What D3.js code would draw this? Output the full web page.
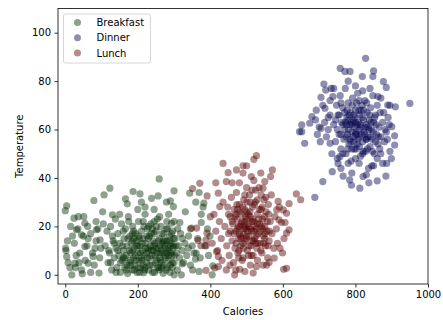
<!DOCTYPE html>
<html>
<head>
<meta charset="utf-8">
<script src="https://cdn.jsdelivr.net/npm/d3@7"></script>
<style>
  body { margin: 0; background: #fff; }
  text { font-family: "DejaVu Sans", sans-serif; }
</style>
</head>
<body>
<div id="chart"></div>
<script>
(function() {
  'use strict';

  // [calories, temperature]
  var breakfast = [
    [4,28.5],[0,26.5],[24,23.4],[36,24],[51,24],[1,11],[4,7.5],[8,5],[13,3],[18,0],[79,30.7],[107,33],[123,35.8],
    [103,26],[130,24.8],[105,21],[47,0.4],[93,0.7],[206,33.4],[187,34.4],[166,31.4],[171,29.3],[210,30],[259,39.6],
    [256,32.6],[238,31.6],[279,30],[300,34.7],[290,30.5],[298,28.2],[331,26],[343,33.7],[369,34],[360,30],[382,29.6],
    [380,28],[375,25],[375,21.6],[399,16],[407,3.7],[405,0],[369,1.4],[351,2],[320,0],[300,0],[322,4.5],[359,6.5],
    [361,9],[339,11],[323,15],[345,19],[316,21.6],[293,21.3],
    [2,10],[6,14],[20,16],[25,13],[30,8],[38,5],[45,2],[55,6],[60,12],[62,20],[70,17],[75,9],[80,4],[85,14],[90,19],
    [95,7],[98,11],[35,19],[15,20],[50,16],[70,1],[28,3],[85,22],[31,18.6],[45,16.5],[63,15],[54,11.7],[40,9],[27,4.8],
    [63,4.8],[77,7.6],[82,11],[96,14.4],[86,18.6],[54,21.3],
    [110,12],[115,18],[118,5],[122,9],[125,20],[128,2],[132,14],[135,7],[138,23],[140,11],[142,3],[145,17],[148,8],
    [150,13],[152,1],[155,21],[157,6],[160,10],[162,15],[164,3],[166,19],[168,8],[170,12],[172,0.5],[174,24],[176,5],
    [178,16],[180,9],[182,13],[184,2],[186,20],[188,7],[190,11],[192,4],[194,17],[196,14],[198,1],[200,9],[202,22],
    [204,6],[206,12],[208,3],[210,18],[212,10],[214,15],[216,0.8],[218,8],[220,25],[222,13],[224,5],[226,19],[228,11],
    [230,2],[232,16],[234,7],[236,21],[238,10],[240,4],[242,14],[244,12],[246,1],[248,8],[250,18],[252,6],[254,23],
    [256,11],[258,3],[260,15],[262,9],[264,20],[266,5],[268,13],[270,0.6],[272,17],[274,8],[276,11],[278,2],[280,14],
    [282,19],[284,6],[286,10],[288,16],[290,4],[292,13],[294,8],[296,18],[298,12],[300,5],[303,15],[306,9],[309,2],
    [312,12],[315,7],[318,17],[322,10],[326,5],[330,13],[335,8],[340,16],[345,4],[350,12],[355,9],[365,15],[372,7],
    [385,12],[392,19],[395,8],
    [185,10],[195,6],[205,15],[215,4],[225,9],[235,12],[245,17],[255,3],[265,10],[275,14],[285,8],[190,2],[230,20],
    [260,24],[280,22],[160,18],[175,22],[150,25],[200,27],[220,28],[245,27],[130,16],[120,10],[140,1],[285,25],
    [300,22],[310,19],
    [152,5],[158,12],[163,7],[168,2],[173,15],[177,10],[181,4],[186,14],[189,18],[193,8],[197,12],[201,3],[203,16],
    [207,9],[211,6],[213,13],[217,20],[219,2],[221,11],[227,7],[229,15],[233,4],[237,17],[239,8],[241,1],[243,10],
    [247,13],[249,5],[251,20],[253,9],[257,14],[259,2],[261,12],[263,6],[267,17],[269,9],[271,4],[273,12],[277,7],
    [279,19],[281,3],[283,11],[287,14],[289,1],[291,9],[293,17],[295,5],[297,11],[299,15],[301,8],[180,6],[190,15],
    [200,12],[210,7],[220,3],[230,10],[240,19],[250,11],[260,7],[270,14],[280,9],[290,12],[170,4],[160,7],[145,10],
    [135,13],[125,5],[305,12],[295,3],[215,22],[245,22],[265,3],[185,17],[205,1],[225,16]
  ];

  var dinner = [
    [828,89.4],[758,85.3],[771,84],[785,84],[850,84.2],[819,81.9],[848,81.9],[877,79.8],[885,77.4],[713,78.8],
    [718,76.3],[733,77],[738,73.6],[705,73.3],[692,68],[716,68.8],[680,65.3],[674,62.6],[652,61.9],[646,59.1],
    [652,59.1],[660,54.3],[705,60.5],[703,55],[730,54.3],[950,70.8],[910,69.4],[889,70.1],[862,73.6],[900,61.2],
    [908,57.4],[908,53.6],[899,48],[886,46],[875,46],[884,40.8],[860,38.8],[837,38],[812,35.8],[789,37],[784,39.2],
    [766,40.8],[736,42.6],[710,38.5],[688,32],[752,46],[757,48.8],[830,41.3],[821,40.6],
    [740,62],[745,55],[748,70],[750,48],[752,66],[755,58],[758,74],[760,52],[762,63],[765,69],[768,56],[770,60],
    [772,77],[774,50],[776,65],[778,58],[780,71],[782,54],[784,62],[786,67],[788,47],[790,59],[792,73],[794,64],
    [796,55],[798,61],[800,68],[802,52],[804,58],[806,75],[808,63],[810,57],[812,66],[814,49],[816,61],[818,70],
    [820,55],[822,64],[824,59],[826,72],[828,51],[830,62],[832,67],[834,57],[836,44],[838,64],[840,53],[842,69],
    [844,60],[846,56],[848,74],[850,63],[852,50],[855,66],[858,58],[860,70],[862,54],[865,61],[868,67],[870,57],
    [875,63],[880,55],[885,59],[890,65],[895,51],[725,60],[730,66],[735,50],[720,57],[715,63],[700,61],[690,64],
    [695,58],[710,70],[780,80],[800,78],[820,76],[760,44],[790,42],[810,46],[845,45],[860,48],[870,73],[780,64],
    [790,62],[800,58],[810,60],[795,66],[805,54],[815,68],[785,56],[825,58],[775,62],[835,61],[800,63],[790,52],
    [810,72],[770,67],[830,56],
    [772,63],[774,57],[777,68],[779,52],[781,60],[783,66],[787,55],[789,63],[791,70],[793,57],[797,52],[799,65],
    [801,59],[803,71],[805,62],[807,56],[809,68],[811,53],[813,62],[817,58],[819,65],[821,51],[823,68],[827,61],
    [829,56],[831,71],[833,52],[837,60],[839,66],[841,57],[843,63],[847,51],[849,59],[853,65],[857,62],[863,57],
    [867,52],[760,58],[765,62],[755,66],[750,60],[745,64],[878,67],[882,60],[888,56],[893,62],[730,72],[740,77],
    [870,50],[850,45],[800,48],[780,46],[820,50],[840,77],[760,71],[895,70],[725,65],[765,50],[855,55]
  ];

  var lunch = [
    [435,46],[527,49.2],[520,47.7],[500,45],[490,45],[472,43.3],[371,37.8],[351,35.6],[391,32.6],[415,38],[637,33.4],
    [649,31],[617,29.4],[610,25.4],[617,18.6],[610,17.2],[599,9],[602,2.3],[610,2.7],[467,0],[388,1.8],[412,2.8],
    [374,12],[388,12],[388,14.4],[366,14.2],[348,19.3],[362,19.3],[417,9.6],[422,3.4],[454,4],[495,1.4],[527,3.4],
    [555,4],[571,43.3],[566,40.6],[587,30.3],[589,22.7],[583,26.8],[601,26.8],[596,21.6],[606,21.6],[603,15],[592,11],
    [576,6.9],[562,5.1],[518,0.7],[481,2.3],[444,2],[422,7.6],[391,17.2],[400,24],[426,28.2],[422,33.7],[444,38.5],
    [449,42.2],[490,42],[513,40.6],[539,42],[550,38.5],[545,35.8],
    [440,20],[445,12],[448,28],[450,17],[452,8],[455,24],[458,32],[460,14],[462,21],[464,5],[466,27],[468,11],
    [470,18],[472,34],[474,23],[476,9],[478,15],[480,29],[482,20],[484,12],[486,25],[488,6],[490,17],[492,31],
    [494,22],[496,14],[498,19],[500,26],[502,10],[504,21],[506,16],[508,33],[510,24],[512,12],[514,18],[516,28],
    [518,8],[520,22],[522,15],[524,30],[526,19],[528,11],[530,25],[532,17],[534,36],[536,21],[538,13],[540,27],
    [542,9],[544,23],[546,16],[548,31],[550,20],[552,12],[554,26],[556,18],[558,7],[560,29],[562,14],[565,22],
    [568,33],[570,17],[575,11],[578,24],[582,19],[585,13],[590,28],[480,38],[500,36],[520,39],[460,38],[510,4],
    [490,7],[470,2],[530,6],[545,4],[430,15],[425,22],[420,10],[415,18],[410,25],[405,13],[435,30],[432,6],[495,27],
    [505,20],[515,14],[485,21],[475,19],[500,16],[510,30],[490,13],[520,18],[530,21],[470,25],[480,17],[460,22],
    [550,15],[540,33],[500,23],
    [465,17],[468,24],[471,13],[473,29],[477,20],[479,10],[481,26],[483,16],[487,22],[489,28],[491,11],[493,19],
    [497,24],[499,15],[501,30],[503,18],[507,12],[509,26],[511,19],[513,8],[517,23],[519,14],[521,29],[523,20],
    [527,16],[529,31],[531,13],[533,23],[537,18],[539,10],[541,20],[543,28],[547,13],[549,24],[551,17],[553,32],
    [557,22],[559,12],[561,25],[563,18],[485,15],[495,20],[505,25],[515,22],[525,13],[535,27],[475,27],[455,18],
    [450,25],[545,19],[505,8],[495,33],[515,35],[478,7],[525,35]
  ];

  var seriesNames = ['Breakfast', 'Dinner', 'Lunch'];
  var seriesColors = ['#052d05', '#050550', '#550000'];
  var seriesData = [breakfast, dinner, lunch];
  var xTicks = [0, 200, 400, 600, 800, 1000];
  var yTicks = [0, 20, 40, 60, 80, 100];

  var svgW = 443,
    svgH = 320,
    left = 58,
    right = 428,
    top = 8.5,
    bottom = 284;

  var svg = d3.select('#chart')
    .append('svg')
    .attr('width', svgW)
    .attr('height', svgH);

  var x = d3.scaleLinear().domain([-20, 1000]).range([left, right]);
  var y = d3.scaleLinear().domain([-3.8, 110]).range([bottom, top]);

  // points, drawn in legend order like matplotlib groupby
  seriesData.forEach(function(pts, i) {
    svg.append('g')
      .selectAll('circle')
      .data(pts)
      .enter()
      .append('circle')
      .attr('cx', function(d) { return x(d[0]); })
      .attr('cy', function(d) { return y(d[1]); })
      .attr('r', 3.6)
      .attr('fill', seriesColors[i])
      .attr('fill-opacity', 0.45);
  });

  var xAxis = svg.append('g')
    .attr('transform', 'translate(0,' + bottom + ')')
    .call(d3.axisBottom(x).tickValues(xTicks).tickSize(3.5).tickPadding(3.5).tickFormat(d3.format('d')));

  var yAxis = svg.append('g')
    .attr('transform', 'translate(' + left + ',0)')
    .call(d3.axisLeft(y).tickValues(yTicks).tickSize(3.5).tickPadding(3.5).tickFormat(d3.format('d')));

  [xAxis, yAxis].forEach(function(ax) {
    ax.select('.domain').remove();
    ax.selectAll('text').attr('font-size', 10).attr('fill', '#000').style('font-family', '"DejaVu Sans", sans-serif');
    ax.selectAll('line').attr('stroke', '#000').attr('stroke-width', 0.8);
  });

  // frame
  svg.append('rect')
    .attr('x', left)
    .attr('y', top)
    .attr('width', right - left)
    .attr('height', bottom - top)
    .attr('fill', 'none')
    .attr('stroke', '#000')
    .attr('stroke-width', 0.8);

  svg.append('text')
    .attr('x', (left + right) / 2)
    .attr('y', 315)
    .attr('text-anchor', 'middle')
    .attr('font-size', 10)
    .text('Calories');

  svg.append('text')
    .attr('transform', 'translate(23,' + (top + bottom) / 2 + ') rotate(-90)')
    .attr('text-anchor', 'middle')
    .attr('font-size', 10)
    .text('Temperature');

  // legend
  var legend = svg.append('g');
  legend.append('rect')
    .attr('x', 63.5)
    .attr('y', 14)
    .attr('width', 87)
    .attr('height', 49)
    .attr('rx', 2)
    .attr('fill', '#fff')
    .attr('fill-opacity', 0.8)
    .attr('stroke', '#ccc')
    .attr('stroke-width', 0.8);

  seriesNames.forEach(function(name, i) {
    var yy = 22.5 + i * 15.3;
    legend.append('circle')
      .attr('cx', 77.5)
      .attr('cy', yy)
      .attr('r', 3.5)
      .attr('fill', seriesColors[i])
      .attr('fill-opacity', 0.45);
    legend.append('text')
      .attr('x', 96.5)
      .attr('y', yy + 3.6)
      .attr('font-size', 10)
      .text(name);
  });

}());
</script>
</body>
</html>
